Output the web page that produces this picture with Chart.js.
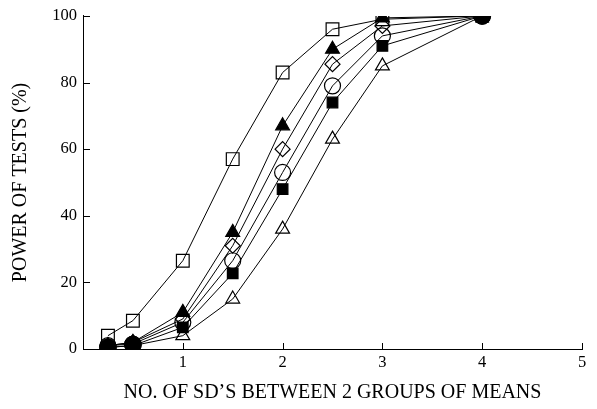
<!DOCTYPE html>
<html>
<head>
<meta charset="utf-8">
<script src="https://cdn.jsdelivr.net/npm/chart.js@4.4.0/dist/chart.umd.min.js"></script>
<style>
  html, body { margin: 0; padding: 0; background: #fff; }
  #wrap { width: 597px; height: 409px; }
</style>
</head>
<body>
<div id="wrap"><canvas id="powerChart"></canvas></div>
<script>
// Distancia entre grupos (em SD) e poder dos testes (%)
const sdSteps = [0.25, 0.5, 1, 1.5, 2, 2.5, 3, 4];
const openSquare   = [4, 8.5, 26.5, 57, 83, 96, 99, 100];
const filledTri    = [1, 2, 11, 35, 67, 90, 99.4, 100];
const openDiamond  = [1, 2, 9, 31, 60, 85.5, 97, 100];
const openCircle   = [1, 1.5, 8, 26.5, 53, 79, 94, 100];
const filledSquare = [0.5, 1, 6.5, 22.7, 48, 74, 91, 100];
const openTri      = [0.5, 1, 4, 15, 36, 63, 85, 100];
// circulos cheios so aparecem nos extremos
const filledCircleX = [0.25, 0.5, 4];
const filledCircleY = [0.5, 1.3, 100];

const xTicks = [1, 2, 3, 4, 5];
const yTicks = [0, 20, 40, 60, 80, 100];

const pts = (xs, ys) => xs.map((x, i) => ({ x: x, y: ys[i] }));

function serie(values, style, radius, filled) {
    return {
        data: pts(sdSteps, values),
        showLine: true,
        borderColor: '#000',
        borderWidth: 1,
        pointStyle: style,
        pointRadius: radius,
        pointBorderWidth: 1.2,
        pointBorderColor: '#000',
        pointBackgroundColor: filled ? '#000' : 'rgba(0,0,0,0)',
        tension: 0
    };
}

// Desenha os tracinhos dos eixos para dentro
const innerTicks = {
    id: 'innerTicks',
    afterDraw(chart) {
        const { ctx, scales: { x, y } } = chart;
        ctx.save();
        ctx.strokeStyle = '#000';
        ctx.lineWidth = 1;
        ctx.beginPath();
        xTicks.forEach(v => {
            const px = Math.round(x.getPixelForValue(v)) + 0.5;
            ctx.moveTo(px, y.bottom);
            ctx.lineTo(px, y.bottom - 6);
        });
        yTicks.forEach(v => {
            const py = Math.round(y.getPixelForValue(v)) + 0.5;
            ctx.moveTo(x.left, py);
            ctx.lineTo(x.left + 7, py);
        });
        ctx.stroke();
        ctx.restore();
    }
};

const serif = "'Liberation Serif', 'Times New Roman', serif";
const font = { family: serif, size: 16.5 };

document.addEventListener('DOMContentLoaded', () => {
    new Chart(document.getElementById('powerChart'), {
        type: 'scatter',
        data: {
            datasets: [
                serie(openSquare, 'rect', 9, false),
                serie(filledTri, 'triangle', 8, true),
                serie(openDiamond, 'rectRot', 7.5, false),
                serie(openCircle, 'circle', 8, false),
                serie(filledSquare, 'rect', 7.5, true),
                serie(openTri, 'triangle', 8, false),
                {
                    data: pts(filledCircleX, filledCircleY),
                    showLine: false,
                    pointStyle: 'circle',
                    pointRadius: 8.5,
                    pointBorderColor: '#000',
                    pointBackgroundColor: '#000'
                }
            ]
        },
        options: {
            responsive: true,
            maintainAspectRatio: false,
            animation: false,
            layout: { padding: { left: 0, right: 15, top: 15, bottom: 0 } },
            plugins: { legend: { display: false }, tooltip: { enabled: false } },
            scales: {
                x: {
                    type: 'linear',
                    min: 0,
                    max: 5,
                    afterFit: s => { s.height = 60; },
                    afterBuildTicks: s => { s.ticks = xTicks.map(v => ({ value: v })); },
                    grid: { drawOnChartArea: false, drawTicks: false },
                    border: { color: '#000', width: 1 },
                    ticks: { color: '#000', font: font, padding: 4 },
                    title: {
                        display: true,
                        text: 'NO. OF SD\u2019S BETWEEN 2 GROUPS OF MEANS',
                        color: '#000',
                        font: { family: serif, size: 20 },
                        padding: { top: 0, bottom: 4 }
                    }
                },
                y: {
                    min: 0,
                    max: 100,
                    afterFit: s => { s.width = 83; },
                    afterBuildTicks: s => { s.ticks = yTicks.map(v => ({ value: v })); },
                    grid: { drawOnChartArea: false, drawTicks: false },
                    border: { color: '#000', width: 1 },
                    ticks: { color: '#000', font: font, padding: 6 },
                    title: {
                        display: true,
                        text: 'POWER OF TESTS (%)',
                        color: '#000',
                        font: { family: serif, size: 20 },
                        padding: { top: 9, bottom: 0 }
                    }
                }
            }
        },
        plugins: [innerTicks]
    });
});
</script>
</body>
</html>
